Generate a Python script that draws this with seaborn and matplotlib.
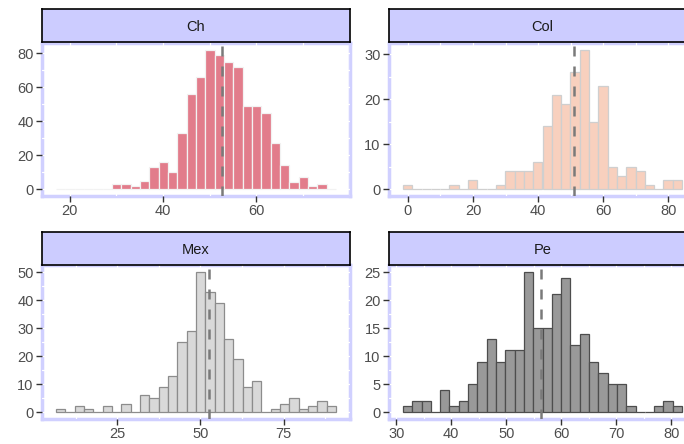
import numpy as np
import pandas as pd
import matplotlib
matplotlib.use("Agg")
import matplotlib.pyplot as plt
import seaborn as sns
from matplotlib.ticker import MultipleLocator

# histogram counts per country (30 bins each)
ch_counts = [0, 0, 0, 0, 0, 0, 3, 3, 2, 5, 13, 16, 10, 33, 56, 66, 82, 79, 75, 72,
             49, 49, 45, 27, 14, 4, 7, 2, 3, 0]
col_counts = [1, 0, 0, 0, 0, 1, 0, 2, 0, 0, 1, 4, 4, 4, 6, 14, 21, 19, 26, 31,
              15, 23, 5, 3, 5, 4, 1, 0, 2, 2]
mex_counts = [1, 0, 2, 1, 0, 2, 0, 3, 0, 6, 5, 9, 13, 25, 29, 50, 43, 39, 26, 19,
              9, 11, 0, 1, 3, 5, 1, 2, 4, 2]
pe_counts = [1, 2, 2, 0, 4, 1, 2, 5, 9, 13, 9, 11, 11, 25, 15, 15, 21, 24, 12, 14,
             9, 7, 5, 5, 1, 0, 0, 1, 2, 1]

# first bin edge and bin width
ch_bins = (17.1, 2.0)
col_bins = (-1.54, 2.86)
mex_bins = (6.56, 2.806)
pe_bins = (31.22, 1.692)

# means (dashed lines)
ch_mean = 52.6
col_mean = 51.1
mex_mean = 52.5
pe_mean = 56.4

ch_xticks = [20, 40, 60]
col_xticks = [0, 20, 40, 60, 80]
mex_xticks = [25, 50, 75]
pe_xticks = [30, 40, 50, 60, 70, 80]
ch_yticks = [0, 20, 40, 60, 80]
col_yticks = [0, 10, 20, 30]
mex_yticks = [0, 10, 20, 30, 40, 50]
pe_yticks = [0, 5, 10, 15, 20, 25]

sns.set_style("white")
plt.rcParams['font.family'] = ['Liberation Sans', 'DejaVu Sans']

W, H = 684, 444
fig = plt.figure(figsize=(6.84, 4.44), dpi=100)


def px_axes(l, t, r, b):
    return fig.add_axes([l / W, 1 - b / H, (r - l) / W, (b - t) / H])


panels = [
    ("Ch", ch_counts, ch_bins, ch_mean, ch_xticks, ch_yticks, "#E27C8B", "#F2F2F2",
     (42, 43, 350, 196), (42, 9, 350, 42)),
    ("Col", col_counts, col_bins, col_mean, col_xticks, col_yticks, "#F8D0BE", "#CFCFCF",
     (389, 43, 696, 196), (389, 9, 696, 42)),
    ("Mex", mex_counts, mex_bins, mex_mean, mex_xticks, mex_yticks, "#D9D9D9", "#8C8C8C",
     (42, 265, 350, 419), (42, 232, 350, 265)),
    ("Pe", pe_counts, pe_bins, pe_mean, pe_xticks, pe_yticks, "#999999", "#4D4D4D",
     (389, 265, 696, 419), (389, 232, 696, 265)),
]

for name, counts, (start, width), mean, xt, yt, fill, edge, pbox, sbox in panels:
    edges = start + width * np.arange(len(counts) + 1)
    centers = (edges[:-1] + edges[1:]) / 2
    df = pd.DataFrame({"value": centers, "n": counts})

    ax = px_axes(*pbox)
    sns.histplot(data=df, x="value", weights="n", bins=list(edges), color=fill,
                 edgecolor=edge, linewidth=0.9, alpha=1, ax=ax)
    ax.axvline(mean, color="#7a7a7a", lw=1.8, ls=(0, (4, 4)), zorder=3)

    span = edges[-1] - edges[0]
    ax.set_xlim(edges[0] - 0.05 * span, edges[-1] + 0.05 * span)
    top = max(counts)
    ax.set_ylim(-0.05 * top, 1.05 * top)
    ax.set_xticks(xt)
    ax.set_yticks(yt)
    ax.xaxis.set_minor_locator(MultipleLocator((xt[1] - xt[0]) / 2))
    ax.yaxis.set_minor_locator(MultipleLocator((yt[1] - yt[0]) / 2))
    ax.set_xlabel("")
    ax.set_ylabel("")
    ax.tick_params(which="major", direction="out", length=4, width=1,
                   color="#333333", labelcolor="#4D4D4D", labelsize=10.5,
                   pad=2, bottom=True, left=True)
    ax.tick_params(which="minor", length=0)
    ax.grid(True, which="both", color="white", lw=0.9)
    ax.set_axisbelow(True)
    for s in ax.spines.values():
        s.set_color("#D0D0FF")
        s.set_linewidth(2.5)
        s.set_zorder(0.3)

    sax = px_axes(*sbox)
    sax.set_facecolor("#CCCCFF")
    sax.set_xticks([])
    sax.set_yticks([])
    for s in sax.spines.values():
        s.set_color("black")
        s.set_linewidth(1.2)
    sax.text(0.5, 0.45, name, ha="center", va="center", fontsize=10.5,
             color="#1A1A1A", transform=sax.transAxes)

fig.savefig("out.png", dpi=100)
